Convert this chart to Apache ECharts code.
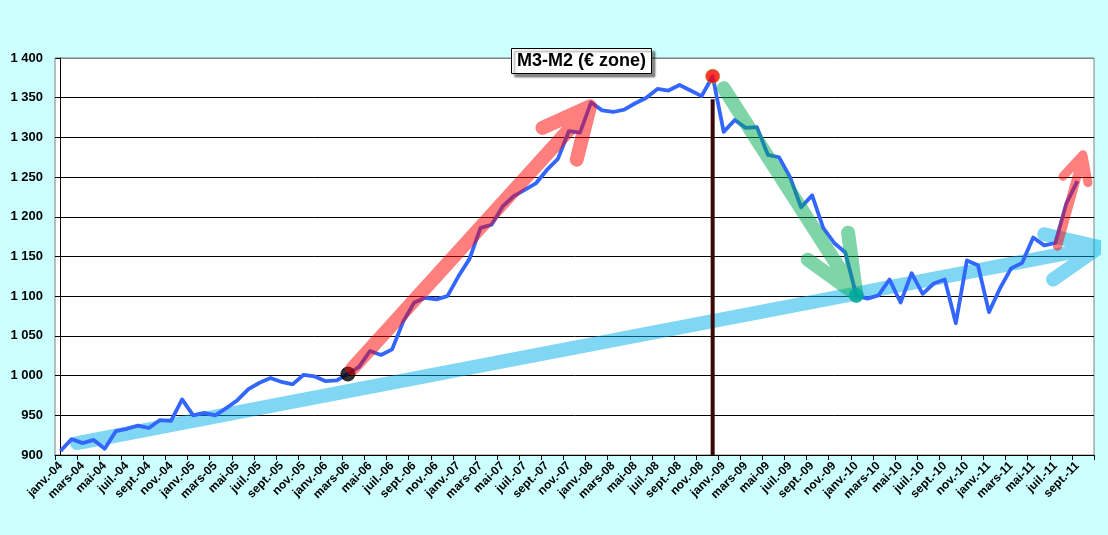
<!DOCTYPE html>
<html>
<head>
<meta charset="utf-8">
<script src="https://cdn.jsdelivr.net/npm/echarts@6/dist/echarts.min.js"></script>
<style>
	html, body { margin: 0; padding: 0; background: #ccffff; }
	#chart-box { width: 1108px; height: 535px; }
</style>
</head>
<body>
<div id="chart-box"></div>
<script>
// months janv.-04 .. oct.-11
let monthNames = ["janv.", "févr.", "mars", "avr.", "mai", "juin", "juil.", "août", "sept.", "oct.", "nov.", "déc."]
let years = ["04", "05", "06", "07", "08", "09", "10", "11"]

let months = []
years.forEach(function (y) {
	monthNames.forEach(function (m) {
		months.push(m + "-" + y)
	})
})
months = months.slice(0, 94)

// M3-M2, billions of euros
let m3m2 = [
	905, 920, 915, 919, 908, 930, 933, 937, 934, 944, 943, 970,
	950, 953, 950, 959, 969, 983, 991, 997, 992, 989, 1001, 999,
	993, 994, 1002, 1011, 1031, 1026, 1033, 1068, 1092, 1098, 1096, 1100,
	1125, 1147, 1186, 1190, 1213, 1226, 1234, 1242, 1259, 1273, 1308, 1306,
	1344, 1334, 1332, 1335, 1343, 1350, 1361, 1359, 1366, 1359, 1352, 1377,
	1307, 1322, 1312, 1313, 1278, 1275, 1250, 1212, 1227, 1186, 1167, 1155,
	1101, 1097, 1101, 1121, 1092, 1129, 1103, 1116, 1121, 1066, 1145, 1139,
	1080, 1110, 1135, 1142, 1174, 1164, 1167, 1217, 1245, null
]

// highlighted months: start of rise (under the arrow), peak and trough (over the arrows)
let lowDots = [26]
let lowDotColors = ["#000000"]
let highDots = [59, 72]
let highDotColors = ["#ff0000", "#00a99d"]

// hand-drawn trend arrows, [month index, value]: start, tip, head, tip, head
let trendArrow = [[1.5, 915], [94.0, 1162], [89.0, 1178], [94.0, 1162], [89.8, 1121]]
let riseArrow = [[26.4, 1009], [47.9, 1339], [43.6, 1312], [47.9, 1339], [46.7, 1272]]
let fallArrow = [[60.0, 1362], [72.0, 1102], [67.6, 1146], [72.0, 1102], [71.25, 1180]]
let reboundArrow = [[90.2, 1163], [92.5, 1278], [90.7, 1251], [92.5, 1278], [92.95, 1243]]
let peakLine = [[59, 1348], [59, 900]]

let yTicks = [900, 1400, 50]

let chartBox = document.getElementById("chart-box")
let chart = echarts.init(chartBox)

let formatThousands = function (v) {
	if (v < 1000) {
		return String(v)
	}
	let rest = String(v % 1000)
	while (rest.length < 3) {
		rest = "0" + rest
	}
	return Math.floor(v / 1000) + " " + rest
}

let arrowSeries = function (data, color, width, z) {
	return {
		type: "line",
		xAxisIndex: 1,
		data: data,
		showSymbol: false,
		symbol: "none",
		clip: false,
		silent: true,
		z: z,
		lineStyle: {
			color: color,
			width: width,
			opacity: 0.5,
			cap: "round",
			join: "round"
		}
	}
}

let dotSeries = function (indexes, colors, z) {
	return {
		type: "scatter",
		data: indexes.map(function (i, k) {
			return {
				value: [i, m3m2[i]],
				itemStyle: { color: colors[k], borderColor: colors[k] == "#ff0000" ? "#a89a20" : colors[k], borderWidth: 1 }
			}
		}),
		symbolSize: 14,
		silent: true,
		z: z
	}
}

let splitColors = []
for (let v = yTicks[0]; v <= yTicks[1]; v += yTicks[2]) {
	splitColors.push(v == yTicks[1] ? "#808080" : "#000000")
}

let font = "'Liberation Sans', Arial, sans-serif"

let option = {
	backgroundColor: "#ccffff",
	animation: false,
	title: {
		text: "M3-M2 (€ zone)",
		left: 511,
		top: 48,
		padding: [3, 6, 3, 6],
		backgroundColor: "#ffffff",
		borderColor: "#000000",
		borderWidth: 1,
		shadowColor: "rgba(0,0,0,0.45)",
		shadowBlur: 2,
		shadowOffsetX: 3,
		shadowOffsetY: 3,
		textStyle: {
			fontFamily: font,
			fontSize: 18,
			fontWeight: "bold",
			color: "#000000",
			lineHeight: 20
		},
		z: 20
	},
	grid: {
		left: 55,
		right: 14,
		top: 58,
		bottom: 80,
		show: true,
		backgroundColor: "#ffffff",
		borderColor: "#808080",
		borderWidth: 1
	},
	xAxis: [
		{
			type: "category",
			data: months,
			boundaryGap: true,
			axisLine: { lineStyle: { color: "#000000", width: 1 } },
			axisTick: { show: true, interval: 1, length: 5, lineStyle: { color: "#000000" } },
			axisLabel: {
				interval: 1,
				rotate: 45,
				margin: 9,
				fontFamily: font,
				fontSize: 12,
				fontWeight: "bold",
				color: "#000000"
			},
			splitLine: { show: false }
		},
		{
			type: "value",
			min: -0.5,
			max: months.length - 0.5,
			show: false
		}
	],
	yAxis: {
		type: "value",
		min: yTicks[0],
		max: yTicks[1],
		interval: yTicks[2],
		axisLine: { show: true, lineStyle: { color: "#000000" } },
		axisTick: { show: true, length: 5, lineStyle: { color: "#000000" } },
		axisLabel: {
			margin: 12,
			fontFamily: font,
			fontSize: 13,
			fontWeight: "bold",
			color: "#000000",
			formatter: formatThousands
		},
		splitLine: { show: true, lineStyle: { color: splitColors, width: 1 } }
	},
	series: [
		arrowSeries(trendArrow, "rgb(0,176,232)", 14, 1),
		{
			type: "line",
			xAxisIndex: 1,
			data: peakLine,
			showSymbol: false,
			symbol: "none",
			silent: true,
			z: 2,
			lineStyle: { color: "#3a0808", width: 4 }
		},
		{
			name: "M3-M2",
			type: "line",
			data: m3m2,
			showSymbol: false,
			symbol: "none",
			z: 3,
			lineStyle: { color: "#3366ff", width: 3.8, join: "round" }
		},
		dotSeries(lowDots, lowDotColors, 4),
		arrowSeries(riseArrow, "rgb(255,0,0)", 14, 5),
		arrowSeries(fallArrow, "rgb(0,170,82)", 14, 5),
		arrowSeries(reboundArrow, "rgb(255,0,0)", 9, 5),
		dotSeries(highDots, highDotColors, 6)
	]
}
chart.setOption(option)
</script>
</body>
</html>
